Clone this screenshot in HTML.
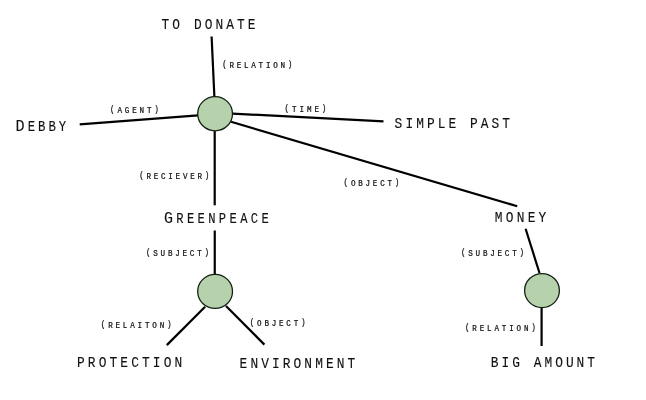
<!DOCTYPE html><html><head><meta charset="utf-8"><style>html,body{margin:0;padding:0;background:#fff;width:646px;height:400px;overflow:hidden}svg{display:block;will-change:transform}text{font-family:"Liberation Mono",monospace;fill:#111;stroke:#111;stroke-width:0.12px}text.s{stroke-width:0.24px}</style></head><body>
<svg width="646" height="400" viewBox="0 0 646 400">
<line x1="211.6" y1="36.5" x2="214.4" y2="97" stroke="#000" stroke-width="2.2"/>
<line x1="79.7" y1="124.3" x2="198" y2="115.3" stroke="#000" stroke-width="2.2"/>
<line x1="232.5" y1="113.6" x2="383.5" y2="121.3" stroke="#000" stroke-width="2.2"/>
<line x1="231" y1="121.8" x2="517.25" y2="206.25" stroke="#000" stroke-width="2.2"/>
<line x1="214.7" y1="131" x2="214.7" y2="205.3" stroke="#000" stroke-width="2.2"/>
<line x1="214.75" y1="230.5" x2="214.75" y2="274.5" stroke="#000" stroke-width="2.2"/>
<line x1="205.1" y1="306.8" x2="166.8" y2="345.1" stroke="#000" stroke-width="2.2"/>
<line x1="226" y1="306" x2="264.4" y2="344.6" stroke="#000" stroke-width="2.2"/>
<line x1="525.6" y1="228.75" x2="539.5" y2="273" stroke="#000" stroke-width="2.2"/>
<line x1="541.6" y1="308" x2="541.6" y2="346" stroke="#000" stroke-width="2.2"/>
<ellipse cx="215.1" cy="113.7" rx="17.4" ry="17.1" fill="#b6d2ac" stroke="#142014" stroke-width="1.3"/>
<ellipse cx="215.1" cy="291.4" rx="17.4" ry="17.0" fill="#b6d2ac" stroke="#142014" stroke-width="1.3"/>
<ellipse cx="542" cy="290.6" rx="17.4" ry="17.0" fill="#b6d2ac" stroke="#142014" stroke-width="1.3"/>
<text transform="translate(161.60,28.7) scale(0.88,1)" font-size="14.6" letter-spacing="3.471">TO DONATE</text>
<text transform="translate(394.60,127.8) scale(0.88,1)" font-size="14.6" letter-spacing="3.486">SIMPLE PAST</text>
<text transform="translate(494.80,221.9) scale(0.88,1)" font-size="14.6" letter-spacing="3.675">MONEY</text>
<text transform="translate(77.00,366.7) scale(0.88,1)" font-size="14.6" letter-spacing="3.554">PROTECTION</text>
<text transform="translate(239.60,367.8) scale(0.88,1)" font-size="14.6" letter-spacing="3.505">ENVIRONMENT</text>
<text transform="translate(490.80,367.1) scale(0.88,1)" font-size="14.6" letter-spacing="3.428">BIG AMOUNT</text>
<text transform="translate(15.56,130.6) scale(0.88,1)" font-size="14.0" letter-spacing="3.412"><tspan font-size="17.2">D</tspan>EBBY</text>
<text transform="translate(164.00,222.7) scale(0.88,1)" font-size="13.8" letter-spacing="3.810"><tspan font-size="17.0">G</tspan>REENPEACE</text>
<text class="s" transform="translate(222.20,67.9) scale(0.88,1)" font-size="8.6" letter-spacing="3.119"><tspan dy="-1.0">(</tspan><tspan dy="1.0">RELATION</tspan><tspan dy="-1.0">)</tspan></text>
<text class="s" transform="translate(110.00,112.9) scale(0.88,1)" font-size="8.6" letter-spacing="3.230"><tspan dy="-1.0">(</tspan><tspan dy="1.0">AGENT</tspan><tspan dy="-1.0">)</tspan></text>
<text class="s" transform="translate(284.60,111.7) scale(0.88,1)" font-size="8.6" letter-spacing="3.302"><tspan dy="-1.0">(</tspan><tspan dy="1.0">TIME</tspan><tspan dy="-1.0">)</tspan></text>
<text class="s" transform="translate(139.20,178.9) scale(0.88,1)" font-size="8.6" letter-spacing="3.117"><tspan dy="-1.0">(</tspan><tspan dy="1.0">RECIEVER</tspan><tspan dy="-1.0">)</tspan></text>
<text class="s" transform="translate(343.60,185.8) scale(0.88,1)" font-size="8.6" letter-spacing="3.149"><tspan dy="-1.0">(</tspan><tspan dy="1.0">OBJECT</tspan><tspan dy="-1.0">)</tspan></text>
<text class="s" transform="translate(146.00,255.7) scale(0.88,1)" font-size="8.6" letter-spacing="3.146"><tspan dy="-1.0">(</tspan><tspan dy="1.0">SUBJECT</tspan><tspan dy="-1.0">)</tspan></text>
<text class="s" transform="translate(100.80,327.8) scale(0.88,1)" font-size="8.6" letter-spacing="3.203"><tspan dy="-1.0">(</tspan><tspan dy="1.0">RELAITON</tspan><tspan dy="-1.0">)</tspan></text>
<text class="s" transform="translate(249.80,325.6) scale(0.88,1)" font-size="8.6" letter-spacing="3.154"><tspan dy="-1.0">(</tspan><tspan dy="1.0">OBJECT</tspan><tspan dy="-1.0">)</tspan></text>
<text class="s" transform="translate(461.00,255.6) scale(0.88,1)" font-size="8.6" letter-spacing="3.146"><tspan dy="-1.0">(</tspan><tspan dy="1.0">SUBJECT</tspan><tspan dy="-1.0">)</tspan></text>
<text class="s" transform="translate(465.00,330.8) scale(0.88,1)" font-size="8.6" letter-spacing="3.215"><tspan dy="-1.0">(</tspan><tspan dy="1.0">RELATION</tspan><tspan dy="-1.0">)</tspan></text>
</svg></body></html>
